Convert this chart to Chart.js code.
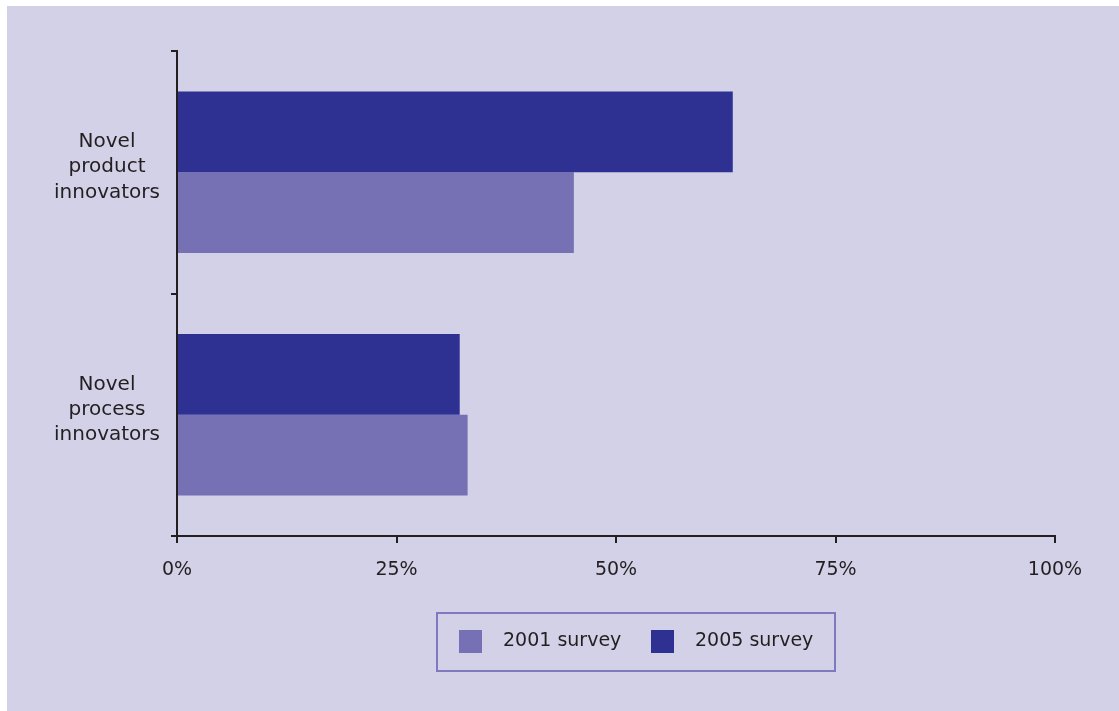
<!DOCTYPE html>
<html>
<head>
<meta charset="utf-8">
<title>Novel innovators</title>
<script src="https://cdn.jsdelivr.net/npm/chart.js@4"></script>
<style>
    html, body { margin: 0; padding: 0; background: #ffffff; }
    #panel {
        position: absolute;
        left: 7px;
        top: 6px;
        width: 1112px;
        height: 705px;
        background: #d3d1e8;
    }
</style>
</head>
<body>
<div id="panel">
    <canvas id="grafico" width="1112" height="705"></canvas>
</div>
<script>
const categories = [
    ["Novel", "product", "innovators"],
    ["Novel", "process", "innovators"]
];
const seriesNames = ["2005 survey", "2001 survey"];
const survey2005 = [63.3, 32.2];
const survey2001 = [45.2, 33.1];
const xTicks = [0, 25, 50, 75, 100];

const textColor = "#231f20";
const fontFamily = "'DejaVu Sans', 'Liberation Sans', Arial, sans-serif";

// legend drawn in a framed box below the axis (2001 first, like the original)
const boxedLegend = {
    id: "boxedLegend",
    afterDraw(chart) {
        const ctx = chart.ctx;
        ctx.save();
        ctx.strokeStyle = "#7f79bf";
        ctx.lineWidth = 2;
        ctx.strokeRect(430, 607, 398, 58);

        ctx.font = "19px " + fontFamily;
        ctx.textBaseline = "middle";
        ctx.fillStyle = textColor;
        const items = chart.data.datasets.slice().reverse();
        const starts = [452, 644];
        items.forEach((ds, i) => {
            ctx.fillStyle = ds.backgroundColor;
            ctx.fillRect(starts[i], 624, 23, 23);
            ctx.fillStyle = textColor;
            ctx.fillText(ds.label, starts[i] + 44, 635);
        });
        ctx.restore();
    }
};

const ctx = document.getElementById("grafico").getContext("2d");
const myChart = new Chart(ctx, {
    type: "bar",
    data: {
        labels: categories,
        datasets: [
            {
                label: seriesNames[0],
                data: survey2005,
                backgroundColor: "#2e3192",
                barPercentage: 1,
                categoryPercentage: 0.665
            },
            {
                label: seriesNames[1],
                data: survey2001,
                backgroundColor: "#7571b4",
                barPercentage: 1,
                categoryPercentage: 0.665
            }
        ]
    },
    options: {
        indexAxis: "y",
        responsive: false,
        animation: false,
        layout: {
            padding: { top: 45, right: 64, left: 0, bottom: 125 }
        },
        plugins: {
            legend: { display: false },
            tooltip: { enabled: false }
        },
        scales: {
            x: {
                min: 0,
                max: 100,
                afterFit: scale => { scale.height = 50; },
                afterBuildTicks: scale => {
                    scale.ticks = xTicks.map(v => ({ value: v }));
                },
                border: { display: true, color: textColor, width: 2 },
                grid: {
                    drawOnChartArea: false,
                    drawTicks: true,
                    tickLength: 7,
                    color: textColor,
                    lineWidth: 2
                },
                ticks: {
                    color: textColor,
                    padding: 16,
                    maxRotation: 0,
                    font: { family: fontFamily, size: 19 },
                    callback: value => value + "%"
                }
            },
            y: {
                z: 1,
                afterFit: scale => {
                    scale.width = 170;
                    scale.paddingTop = 0;
                    scale.paddingBottom = 0;
                },
                border: { display: true, color: textColor, width: 2 },
                grid: {
                    drawOnChartArea: false,
                    drawTicks: true,
                    tickLength: 6,
                    color: textColor,
                    lineWidth: 2
                },
                ticks: {
                    color: textColor,
                    padding: 11,
                    crossAlign: "center",
                    labelOffset: -5,
                    font: { family: fontFamily, size: 20, lineHeight: 1.27 }
                }
            }
        }
    },
    plugins: [boxedLegend]
});
</script>
</body>
</html>
